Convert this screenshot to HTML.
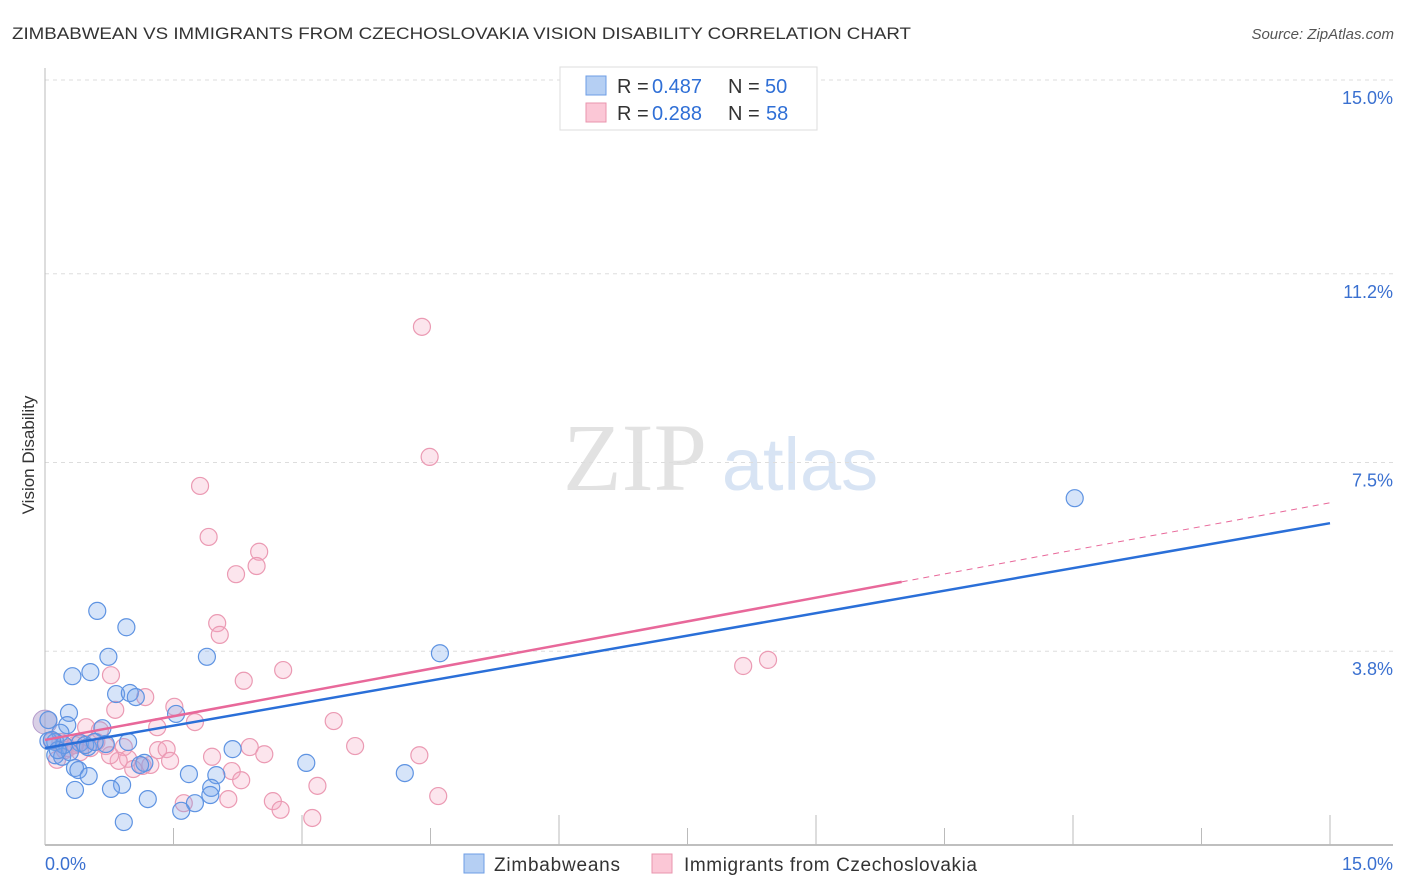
<!DOCTYPE html>
<html><head><meta charset="utf-8">
<style>
body{margin:0;background:#fff;font-family:"Liberation Sans",sans-serif;}
#wrap{position:relative;width:1406px;height:892px;overflow:hidden;}
</style></head>
<body>
<div id="wrap">
<svg id="svg" width="1406" height="892" xmlns="http://www.w3.org/2000/svg">
<text x="12" y="39" font-size="17" fill="#333" textLength="899" lengthAdjust="spacingAndGlyphs">ZIMBABWEAN VS IMMIGRANTS FROM CZECHOSLOVAKIA VISION DISABILITY CORRELATION CHART</text>
<text x="1394" y="39" font-size="15" fill="#555" font-style="italic" text-anchor="end">Source: ZipAtlas.com</text>
<text x="635" y="490" font-size="96" fill="#e2e2e2" font-family="Liberation Serif,serif" text-anchor="middle">ZIP</text>
<text x="800" y="490" font-size="74" fill="#d8e4f4" text-anchor="middle">atlas</text>
<text transform="translate(34,455) rotate(-90)" font-size="17" fill="#333" text-anchor="middle">Vision Disability</text>
<g id="grid"></g><g id="marks"></g><g id="lines"></g>
<g>
<rect x="560" y="67" width="257" height="63" fill="#fff" stroke="#ddd"/>
<rect x="586" y="76" width="20" height="19" fill="#b5cff3" stroke="#6d9ee6"/>
<rect x="586" y="103" width="20" height="19" fill="#fbc7d6" stroke="#ea94ae"/>
<g font-size="20" fill="#333">
<text x="617" y="93">R =</text><text x="652" y="93" fill="#2f6fd6">0.487</text><text x="728" y="93">N =</text><text x="765" y="93" fill="#2f6fd6">50</text></g>
<g font-size="20" fill="#333">
<text x="617" y="120">R =</text><text x="652" y="120" fill="#2f6fd6">0.288</text><text x="728" y="120">N =</text><text x="766" y="120" fill="#2f6fd6">58</text></g>
</g>
<g>
<rect x="464" y="854" width="20" height="19" fill="#b5cff3" stroke="#6d9ee6"/>
<text x="494" y="871" font-size="19" fill="#333" textLength="126">Zimbabweans</text>
<rect x="652" y="854" width="20" height="19" fill="#fbc7d6" stroke="#ea94ae"/>
<text x="684" y="871" font-size="19" fill="#333" textLength="293">Immigrants from Czechoslovakia</text>
</g>
</svg>
</div>
<script>
const blueX=[0.61,0.95,0.74,1.89,0.32,0.53,0.83,0.99,1.06,1.53,0.28,0.26,0.67,0.18,0.04,0.12,0.41,0.50,0.97,0.71,2.19,0.12,0.20,0.29,0.35,0.39,0.51,3.05,1.68,2.00,4.20,1.16,0.90,0.77,0.35,1.20,1.94,1.93,1.75,1.59,0.92,4.61,12.02,0.04,0.22,0.15,0.47,0.08,0.58,1.11];
const blueY=[4.59,4.27,3.69,3.69,3.31,3.39,2.96,2.98,2.90,2.57,2.59,2.35,2.29,2.20,2.04,2.02,2.00,1.92,2.02,1.98,1.88,1.76,1.73,1.82,1.51,1.47,1.35,1.61,1.39,1.37,1.41,1.61,1.18,1.10,1.08,0.90,1.12,0.98,0.82,0.67,0.45,3.76,6.80,2.45,1.96,1.86,1.96,2.06,2.02,1.57];
const pinkX=[4.40,4.49,1.81,1.91,2.50,2.47,2.23,2.01,2.04,0.77,2.78,2.32,8.15,8.44,1.17,1.51,0.82,1.75,3.37,1.31,0.48,0.64,0.92,1.32,1.42,2.39,2.56,1.95,3.62,4.37,0.97,1.46,1.14,1.03,0.86,2.18,2.29,3.18,1.62,2.14,2.66,2.75,4.59,3.12,0.60,0.39,0.18,0.08,0.27,0.53,0.71,0.76,0.23,1.23,0.14,0.35,0.41];
const pinkY=[10.16,7.61,7.04,6.04,5.75,5.47,5.31,4.35,4.12,3.33,3.43,3.22,3.51,3.63,2.90,2.71,2.65,2.41,2.43,2.31,2.31,2.25,1.92,1.86,1.88,1.92,1.78,1.73,1.94,1.76,1.69,1.65,1.55,1.49,1.65,1.45,1.27,1.16,0.82,0.90,0.86,0.69,0.96,0.53,2.02,1.98,2.02,2.04,1.90,1.90,1.94,1.76,1.86,1.57,1.67,1.96,1.82];
const blueLine=[1.90,6.31];
const pinkLine=[2.06,6.71];
const pinkSolidEnd=10.0;
const yTicks=[3.8,7.5,11.2,15.0];
const yTickLabels=["3.8%","7.5%","11.2%","15.0%"];
const xTicks=[0,1.5,3,4.5,6,7.5,9,10.5,12,13.5,15];

const NS="http://www.w3.org/2000/svg";
const X0=45,X1=1330,Y0=845,Y1=80;
const sx=v=>X0+(v/15)*(X1-X0);
const sy=v=>Y0-(v/15)*(Y0-Y1);
function mk(tag,attrs,parent){const e=document.createElementNS(NS,tag);for(const k in attrs)e.setAttribute(k,attrs[k]);parent.appendChild(e);return e;}
const grid=document.getElementById('grid'),marks=document.getElementById('marks'),lines=document.getElementById('lines');
yTicks.forEach((t,i)=>{
  const l=mk('line',{x1:X0,x2:1393,y1:sy(t),y2:sy(t),stroke:'#ddd','stroke-dasharray':'4,4'},grid);
  
  
  const tx=mk('text',{x:1393,y:sy(t)+24,'font-size':18,fill:'#3a70d0','text-anchor':'end'},grid);
  tx.textContent=yTickLabels[i];
  
  
});
const ax=mk('line',{x1:X0,x2:X0,y1:68,y2:Y0,stroke:'#bbb'},grid);


const bx=mk('line',{x1:X0,x2:1393,y1:Y0,y2:Y0,stroke:'#aaa','stroke-width':1.5},grid);


xTicks.forEach((t,i)=>{
  const tk=mk('line',{x1:sx(t),x2:sx(t),y1:(i%2==0&&i>0)?815:828,y2:Y0,stroke:'#bbb'},grid);
  
  
});
const xl0=mk('text',{x:45,y:870,'font-size':18,fill:'#3a70d0'},grid);xl0.textContent='0.0%';


const xl1=mk('text',{x:1393,y:870,'font-size':18,fill:'#3a70d0','text-anchor':'end'},grid);xl1.textContent='15.0%';



const big=mk('circle',{cx:sx(0),cy:sy(2.41),r:12,fill:'rgba(170,150,200,0.45)',stroke:'#b59ccc'},marks);


pinkX.forEach((v,i)=>{
  const c=mk('circle',{cx:sx(v),cy:sy(pinkY[i]),r:8.5,fill:'rgba(246,170,195,0.3)',stroke:'#eb9ab3','stroke-width':1.2},marks);
  
  
});
blueX.forEach((v,i)=>{
  const c=mk('circle',{cx:sx(v),cy:sy(blueY[i]),r:8.5,fill:'rgba(120,165,235,0.3)',stroke:'#5e93e2','stroke-width':1.2},marks);
  
  
});
const pf=x=>pinkLine[0]+(pinkLine[1]-pinkLine[0])*x/15;
const bl=mk('line',{x1:sx(0),y1:sy(blueLine[0]),x2:sx(15),y2:sy(blueLine[1]),stroke:'#2a6fd8','stroke-width':2.5},lines);


const pl=mk('line',{x1:sx(0),y1:sy(pf(0)),x2:sx(pinkSolidEnd),y2:sy(pf(pinkSolidEnd)),stroke:'#e8689a','stroke-width':2.5},lines);


const pd=mk('line',{x1:sx(pinkSolidEnd),y1:sy(pf(pinkSolidEnd)),x2:sx(15),y2:sy(pf(15)),stroke:'#e8689a','stroke-width':1,'stroke-dasharray':'6,5'},lines);


</script>
</body></html>
